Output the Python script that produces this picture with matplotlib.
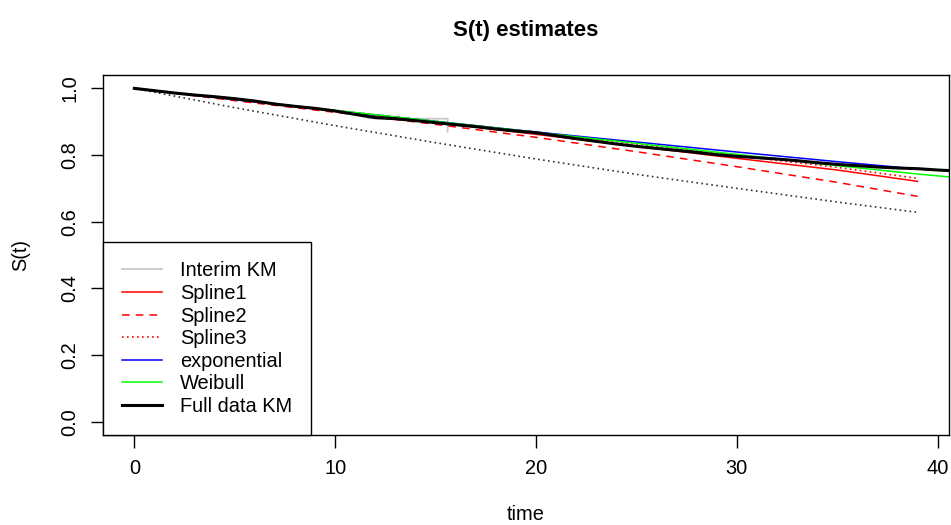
import matplotlib.pyplot as plt
import numpy as np

plt.rcParams['font.family'] = ['Liberation Sans', 'DejaVu Sans']

# Full data Kaplan-Meier
km_time = [0, 1, 2, 3, 4, 5, 6, 7, 8, 9, 10, 11, 12, 13, 14, 15, 16, 17, 18, 19, 20,
           21, 22, 23, 24, 25, 26, 27, 28, 29, 30, 31, 32, 33, 34, 35, 36, 37, 38, 39, 40, 41]
km_surv = [1.0, 0.993, 0.986, 0.980, 0.975, 0.969, 0.962, 0.953, 0.946, 0.940, 0.932,
           0.922, 0.912, 0.909, 0.903, 0.897, 0.891, 0.885, 0.878, 0.872, 0.867,
           0.858, 0.849, 0.841, 0.833, 0.826, 0.820, 0.814, 0.808, 0.801, 0.796,
           0.792, 0.788, 0.783, 0.777, 0.772, 0.768, 0.764, 0.761, 0.759, 0.755, 0.752]

# Interim KM (only visible where it leaves the full data curve)
interim_time = [0, 2, 4, 6, 8, 10, 11.7, 13.2, 15.6, 15.6]
interim_surv = [1.0, 0.986, 0.975, 0.960, 0.946, 0.932, 0.912, 0.909, 0.909, 0.870]

# Model estimates
fit_time = [0, 5, 10, 15, 20, 25, 30, 35, 39]
spline1 = [1.0, 0.966, 0.932, 0.898, 0.862, 0.826, 0.790, 0.755, 0.721]
spline2 = [1.0, 0.963, 0.928, 0.892, 0.853, 0.810, 0.765, 0.718, 0.676]
spline3 = [1.0, 0.967, 0.934, 0.901, 0.867, 0.833, 0.798, 0.763, 0.730]
expo = [1.0, 0.966, 0.933, 0.901, 0.869, 0.839, 0.809, 0.780, 0.758]
other = [1.0, 0.942, 0.888, 0.837, 0.788, 0.742, 0.700, 0.659, 0.628]

weib_time = [0, 5, 10, 15, 20, 25, 30, 35, 39, 41]
weibull = [1.0, 0.967, 0.934, 0.901, 0.868, 0.835, 0.802, 0.768, 0.743, 0.732]

fig = plt.figure(figsize=(9.51, 5.25), dpi=100)
ax = fig.add_axes([0.1083, 0.1714, 0.8896, 0.6857])

ax.plot(interim_time, interim_surv, color='#c8c8c8', lw=1.3, label='Interim KM')
ax.plot(fit_time, other, color='#333333', lw=1.2, ls=(0, (1, 2)))
ax.plot(fit_time, spline1, color='red', lw=1.1, label='Spline1')
ax.plot(fit_time, spline2, color='red', lw=1.1, ls=(0, (5, 4)), label='Spline2')
ax.plot(fit_time, spline3, color='red', lw=1.2, ls=(0, (1, 2)), label='Spline3')
ax.plot(fit_time, expo, color='blue', lw=1.1, label='exponential')
ax.plot(weib_time, weibull, color='#00ff00', lw=1.1, label='Weibull')
ax.plot(km_time, km_surv, color='black', lw=2.2, label='Full data KM')

ax.set_xlim(-1.56, 40.56)
ax.set_ylim(-0.04, 1.04)
ax.set_xticks([0, 10, 20, 30, 40])
ax.set_yticks([0, 0.2, 0.4, 0.6, 0.8, 1.0])
ax.set_yticklabels(['0.0', '0.2', '0.4', '0.6', '0.8', '1.0'], rotation=90, va='center')
ax.tick_params(direction='out', length=9, width=1, labelsize=14.4, pad=8)
for s in ax.spines.values():
    s.set_linewidth(1)

ax.set_xlabel('time', fontsize=14.4, labelpad=20)
ax.set_ylabel('S(t)', fontsize=14.4, labelpad=22)
ax.set_title('S(t) estimates', fontsize=16, fontweight='bold', pad=28)

leg = ax.legend(loc='lower left', bbox_to_anchor=(0, 0), borderaxespad=0,
                fontsize=14.4, frameon=True, fancybox=False, handlelength=2.0,
                handletextpad=0.9, labelspacing=0.18, borderpad=0.95)
leg.get_frame().set_edgecolor('black')
leg.get_frame().set_linewidth(1)
leg.get_frame().set_alpha(1)

fig.savefig('out.png', dpi=100)
